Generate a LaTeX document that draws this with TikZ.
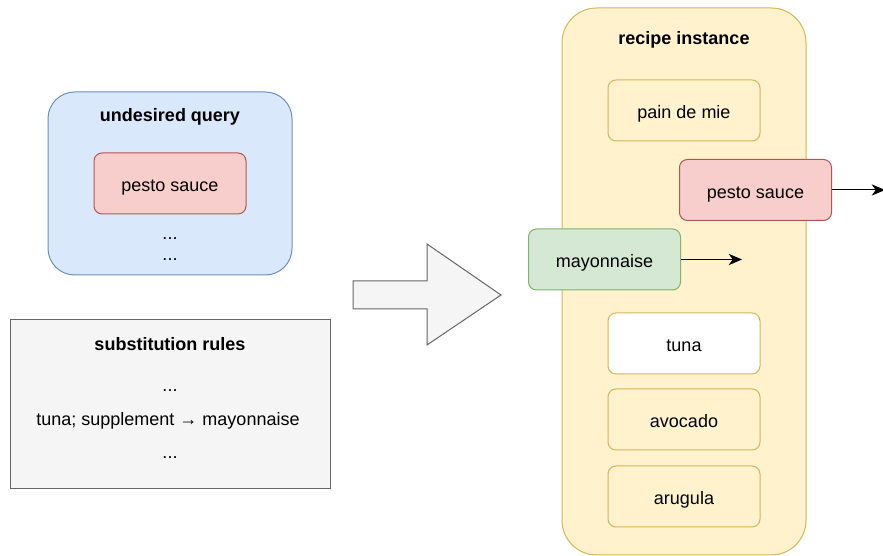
\documentclass[tikz,border=0pt]{standalone}
\usepackage{fontspec}
\setmainfont{Liberation Sans}
\usepackage{tikz}
\usetikzlibrary{arrows.meta, positioning}
\definecolor{queryfill}{HTML}{DAE8FC}
\definecolor{querydraw}{HTML}{6C8EBF}
\definecolor{badfill}{HTML}{F8CECC}
\definecolor{baddraw}{HTML}{B85450}
\definecolor{goodfill}{HTML}{D5E8D4}
\definecolor{gooddraw}{HTML}{82B366}
\definecolor{recipefill}{HTML}{FFF2CC}
\definecolor{recipedraw}{HTML}{D6B656}
\definecolor{rulefill}{HTML}{F5F5F5}
\definecolor{ruledraw}{HTML}{666666}

\begin{document}
\begin{tikzpicture}[
  x=0.75pt, y=0.75pt,
  line width=0.75pt,
  every node/.style={font=\fontsize{13.5}{16}\selectfont},
  group/.style={draw, rounded corners=20pt, inner sep=0pt},
  ingredient/.style={draw=recipedraw, fill=recipefill, rounded corners=6pt,
                     minimum width=114pt, minimum height=45.75pt, inner sep=0pt,
                     text height=12.5pt, text depth=0pt},
  title/.style={font=\fontsize{13.5}{16}\selectfont\bfseries},
  flow/.style={-{Stealth[length=10pt, width=8.5pt, inset=3pt]}, black},
]
  \useasboundingbox (0,0) rectangle (883,556);

  % Left side --- undesired query
  \node[group, draw=querydraw, fill=queryfill, minimum width=183pt,
        minimum height=137.25pt] (query) at (170,372.5) {};
  \node[title] (querytitle) at (170,439) {undesired query};
  \node[ingredient, draw=baddraw, fill=badfill] (qpesto) at (170,372.5) {pesto sauce};
  \node (qdots1) at (170,317) {...};
  \node (qdots2) at (170,296) {...};

  % Substitution rules
  \node[draw=ruledraw, fill=rulefill, minimum width=240pt,
        minimum height=126.75pt, inner sep=0pt] (rules) at (170,151.5) {};
  \node[title] (rulestitle) at (170,212) {substitution rules};
  \node (rdots1) at (170,165) {...};
  \node (rule) at (168,135) {tuna; supplement \char"2192{} mayonnaise};
  \node (rdots2) at (170,98) {...};

  % Big arrow
  \draw[draw=ruledraw, fill=rulefill, line join=miter]
    (353,275) -- (427,275) -- (427,312) -- (501,261) -- (427,211)
    -- (427,247) -- (353,247) -- cycle;

  % Right side --- recipe instance
  \node[group, draw=recipedraw, fill=recipefill, rounded corners=26pt,
        minimum width=183pt, minimum height=410.25pt] (recipe) at (684,274.5) {};
  \node[title] (recipetitle) at (684,516) {recipe instance};
  \node[ingredient] (pain) at (684,445.5) {pain de mie};
  \node[ingredient, draw=baddraw, fill=badfill] (pesto) at (755.5,366) {pesto sauce};
  \node[ingredient, draw=gooddraw, fill=goodfill] (mayo) at (604.5,296.5) {mayonnaise};
  \node[ingredient, fill=white] (tuna) at (684,212.5) {tuna};
  \node[ingredient] (avocado) at (684,136.5) {avocado};
  \node[ingredient] (arugula) at (684,59.5) {arugula};

  \coordinate (pestoout) at (885,366);
  \coordinate (mayoin) at (742,296.5);
  \draw[flow] (pesto) -- (pestoout);
  \draw[flow] (mayo) -- (mayoin);
\end{tikzpicture}
\end{document}
